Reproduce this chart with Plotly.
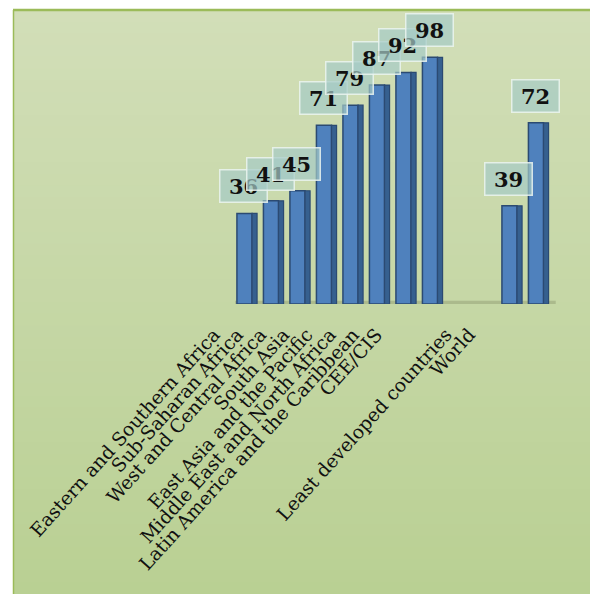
import plotly.graph_objects as go

# ---- data ----
regions = ["Eastern and Southern Africa", "Sub-Saharan Africa", "West and Central Africa",
           "South Asia", "East Asia and the Pacific", "Middle East and North Africa",
           "Latin America and the Caribbean", "CEE/CIS"]
region_values = [36, 41, 45, 71, 79, 87, 92, 98]
aggregates = ["Least developed countries", "World"]
aggregate_values = [39, 72]

# ---- layout helpers ----
W, H = 590, 594
L, R, T, B = 100, 30, 2, 290
PW, PH = W - L - R, H - T - B

def pxx(x):
    return (x - L) / PW

def pxy(y):
    return (H - B - y) / PH

categories = regions + aggregates
values = region_values + aggregate_values
xpos = list(range(len(regions))) + [len(regions) + 2 + i for i in range(len(aggregates))]

fig = go.Figure()

# front faces
fig.add_trace(go.Bar(
    x=xpos, y=values, width=0.57, offset=-0.38,
    marker=dict(color="#4f81bd", line=dict(color="#2b4a72", width=1.5)),
    hoverinfo="skip", showlegend=False, cliponaxis=False))
# side faces (3D look)
fig.add_trace(go.Bar(
    x=xpos, y=values, width=0.19, offset=0.19,
    marker=dict(color="#36608f", line=dict(color="#2b4a72", width=1.2)),
    hoverinfo="skip", showlegend=False, cliponaxis=False))
# invisible trace for the label axis
fig.add_trace(go.Scatter(x=xpos, y=[0] * len(xpos), xaxis="x2", mode="markers",
                         marker=dict(opacity=0), hoverinfo="skip", showlegend=False))

# gradient background bands
shapes = []
top_c = (210, 222, 184)
bot_c = (185, 208, 147)
y_top, y_bot = 10, 594
n = 50
for k in range(n):
    t = k / (n - 1)
    c = tuple(round(top_c[j] + (bot_c[j] - top_c[j]) * t) for j in range(3))
    ya = y_top + (y_bot - y_top) * k / n
    yb = y_top + (y_bot - y_top) * (k + 1) / n + 1
    shapes.append(dict(type="rect", xref="paper", yref="paper",
                       x0=pxx(13), x1=pxx(W), y0=pxy(yb), y1=pxy(ya),
                       fillcolor="rgb(%d,%d,%d)" % c, line=dict(width=0), layer="below"))
# border lines
shapes.append(dict(type="line", xref="paper", yref="paper", x0=pxx(13), x1=pxx(W),
                   y0=pxy(10), y1=pxy(10), line=dict(color="#9bbb59", width=2.5), layer="below"))
shapes.append(dict(type="line", xref="paper", yref="paper", x0=pxx(13.5), x1=pxx(13.5),
                   y0=pxy(10), y1=pxy(H), line=dict(color="#9bbb59", width=1.5), layer="below"))
# floor shadow
shapes.append(dict(type="line", xref="x", yref="y", x0=-0.45, x1=xpos[-1] + 0.65,
                   y0=0.3, y1=0.3, line=dict(color="rgba(140,150,110,0.45)", width=5), layer="below"))

annotations = []
for xv, v in zip(xpos, values):
    annotations.append(dict(
        x=xv - 0.12, y=v, xref="x", yref="y", yshift=27, text="<b>%d</b>" % v,
        showarrow=False, width=44, height=29,
        bgcolor="rgba(165,203,198,0.7)", bordercolor="rgba(235,245,240,0.85)", borderwidth=1.5,
        font=dict(family="DejaVu Serif", size=21, color="#111111")))

# axis ranges: bars pitch 26.5 px with first bar center at 247 px
bar_pitch = 26.5
a1 = -(247 - L) / bar_pitch
b1 = a1 + PW / bar_pitch
lab_pitch = 23.2
a2 = -(214 - L) / lab_pitch
b2 = a2 + PW / lab_pitch

fig.update_layout(
    width=W, height=H,
    margin=dict(l=L, r=R, t=T, b=B),
    paper_bgcolor="white", plot_bgcolor="rgba(0,0,0,0)",
    barmode="overlay",
    shapes=shapes, annotations=annotations,
    xaxis=dict(range=[a1, b1], showticklabels=False, showgrid=False, zeroline=False,
               showline=False, ticks=""),
    xaxis2=dict(range=[a2, b2], overlaying="x", anchor="y", side="bottom",
                tickmode="array", tickvals=xpos, ticktext=categories, tickangle=-48,
                showgrid=False, zeroline=False, showline=False, ticks="",
                ticklabelstandoff=15,
                tickfont=dict(family="DejaVu Serif", size=18.8, color="#111111")),
    yaxis=dict(range=[0, 120], visible=False),
)

fig.write_html("out.html", config={"displayModeBar": False},
               post_script="document.body.style.margin='0';")
